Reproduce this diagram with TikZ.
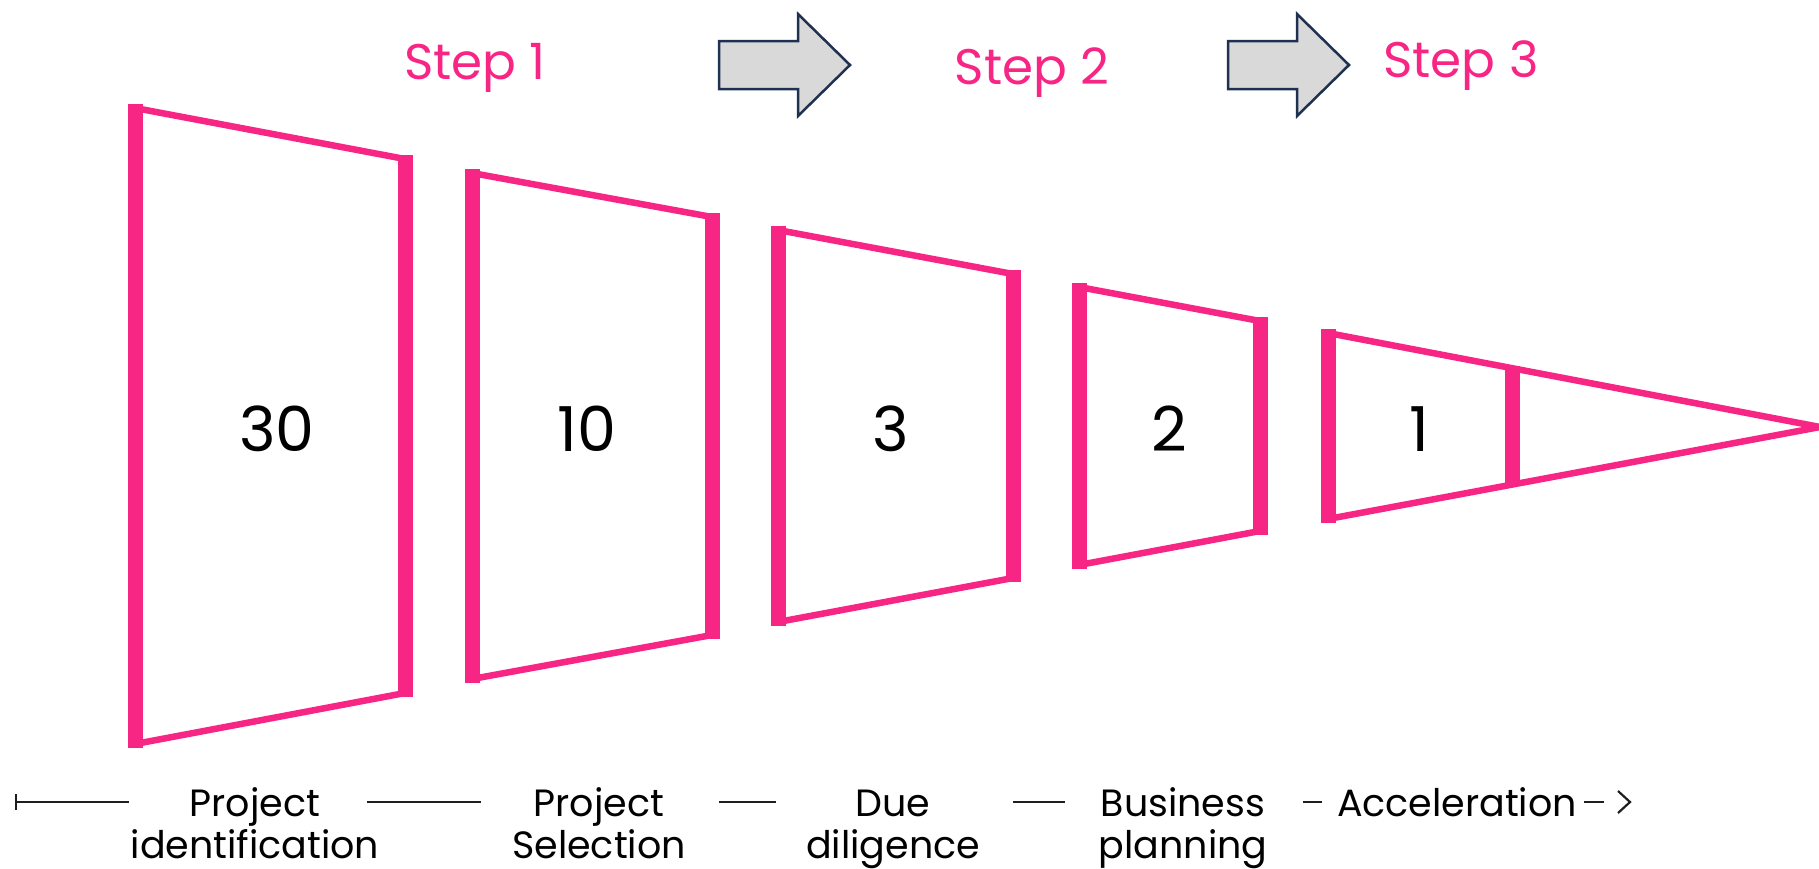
\documentclass[tikz,border=0pt]{standalone}
\usepackage{fontspec}
\setmainfont{Poppins}
\usetikzlibrary{arrows.meta}
\definecolor{pinkc}{RGB}{247,38,133}
\definecolor{navyc}{RGB}{31,48,80}
\definecolor{arrowgray}{RGB}{217,217,217}
\definecolor{linec}{RGB}{30,30,30}
\begin{document}
\begin{tikzpicture}[x=1pt,y=-1pt,
  slantline/.style={pinkc, line width=6.5pt, line join=bevel},
  barline/.style={pinkc, line width=15pt},
  num/.style={font=\fontsize{62}{62}\selectfont, text=black, inner sep=0pt},
  steptxt/.style={font=\fontsize{50}{50}\selectfont, text=pinkc, inner sep=0pt, anchor=base},
  lab/.style={font=\fontsize{38}{42}\selectfont, align=center, anchor=base, inner sep=0pt},
  blockarrow/.style={fill=arrowgray, draw=navyc, line width=2.5pt, line join=miter},
  rulex/.style={linec, line width=1.6pt}
]
\useasboundingbox (0,0) rectangle (1819,868);

% ---------- funnel segments ----------
% segment 1
\draw[slantline] (135,108) -- (405,159) -- (405,693) -- (135,744) -- cycle;
\draw[barline] (135,104) -- (135,748);
\draw[barline] (405,155) -- (405,697);
% segment 2
\draw[slantline] (472,173) -- (712,217) -- (712,635) -- (472,679) -- cycle;
\draw[barline] (472,169) -- (472,683);
\draw[barline] (712,213) -- (712,639);
% segment 3
\draw[slantline] (778,230) -- (1013,274) -- (1013,578) -- (778,622) -- cycle;
\draw[barline] (778,226) -- (778,626);
\draw[barline] (1013,270) -- (1013,582);
% segment 4
\draw[slantline] (1079,287) -- (1260,321) -- (1260,531) -- (1079,565) -- cycle;
\draw[barline] (1079,283) -- (1079,569);
\draw[barline] (1260,317) -- (1260,535);
% segment 5 (tip)
\draw[slantline] (1328,333) -- (1820,427) -- (1328,519) -- cycle;
\draw[barline] (1328,329) -- (1328,523);
\draw[barline] (1512,366) -- (1512,486);

% ---------- numbers ----------
\node[num] (n30) at (277,429) {30};
\node[num] (n10) at (587,429) {10};
\node[num] (n3) at (891,429) {3};
\node[num] (n2) at (1169,429) {2};
\node[num] (n1) at (1419,429) {1};

% ---------- steps ----------
\node[steptxt] (s1) at (475,79) {Step 1};
\node[steptxt] (s2) at (1032,84) {Step 2};
\node[steptxt] (s3) at (1461,77) {Step 3};

\draw[blockarrow] (719,41) -- (798,41) -- (798,14) -- (850,65) -- (798,116) -- (798,89) -- (719,89) -- cycle;
\draw[blockarrow] (1228,41) -- (1297,41) -- (1297,14) -- (1349,65) -- (1297,116) -- (1297,89) -- (1228,89) -- cycle;

% ---------- bottom labels ----------
\node[lab] (l1) at (255,858) {Project\\identification};
\node[lab] (l2) at (599,858) {Project\\Selection};
\node[lab] (l3) at (893,858) {Due\\diligence};
\node[lab] (l4) at (1183,858) {Business\\planning};
\node[lab] (l5) at (1457,816) {Acceleration};

\coordinate (a0) at (16,802);  \coordinate (a1) at (129,802);
\coordinate (b0) at (367,802); \coordinate (b1) at (481,802);
\coordinate (c0) at (719,802); \coordinate (c1) at (776,802);
\coordinate (d0) at (1013,802);\coordinate (d1) at (1065,802);
\coordinate (e0) at (1303,802);\coordinate (e1) at (1322,802);
\coordinate (f0) at (1584,802);\coordinate (f1) at (1604,802);
\coordinate (tipend) at (1630,802);

\draw[rulex] (a0) -- (a1);
\draw[rulex] ([yshift=-8]a0) -- ([yshift=8]a0);
\draw[rulex] (b0) -- (b1);
\draw[rulex] (c0) -- (c1);
\draw[rulex] (d0) -- (d1);
\draw[rulex] (e0) -- (e1);
\draw[rulex] (f0) -- (f1);
\draw[rulex, line width=2.2pt, line join=miter] ([shift={(-12,-11)}]tipend) -- (tipend) -- ([shift={(-12,11)}]tipend);
\end{tikzpicture}
\end{document}
